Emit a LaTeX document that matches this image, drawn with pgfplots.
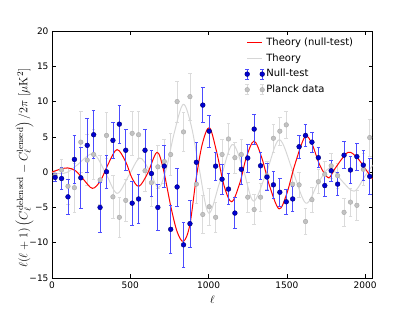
\documentclass[border=0pt]{standalone}
\usepackage[no-math]{fontspec}
\setmainfont{DejaVu Sans}
\usepackage{pgfplots}
\usepackage{pgfplotstable}
\pgfplotsset{compat=1.18}
\definecolor{thred}{rgb}{1,0,0}
\definecolor{nblue}{rgb}{0,0,0.82}
\definecolor{nedge}{rgb}{0,0,0.45}
\definecolor{nbar}{rgb}{0.3,0.3,1}
\definecolor{pgrayfill}{rgb}{0.76,0.76,0.76}
\definecolor{pgrayedge}{rgb}{0.66,0.66,0.66}
\definecolor{pgraybar}{rgb}{0.86,0.86,0.86}
\definecolor{thgray}{rgb}{0.84,0.84,0.84}

\pgfplotstableread{
l v e
20 -0.75 0.6
61 -0.9 1.6
102 -3.5 2.5
143 1.8 3.4
184 -0.8 4.3
225 3.8 3.8
266 5.3 3.4
307 -5.0 3.5
348 0.05 2.3
389 4.5 2.6
430 6.8 2.7
471 3.1 2.9
512 -4.4 3.1
553 -3.8 3.5
594 3.1 2.9
635 -0.2 3.3
676 -5.0 3.2
717 0.85 3.0
758 -8.1 3.4
799 -2.1 2.7
840 -10.3 3.2
881 -7.3 3.3
922 1.4 2.8
963 9.5 2.5
1004 5.8 2.3
1045 0.85 2.0
1086 -1.0 2.1
1127 -2.4 2.2
1168 -5.8 2.2
1209 0.4 2.2
1250 2.0 2.0
1291 6.1 2.1
1332 0.9 1.9
1373 -0.7 1.9
1414 -1.8 1.9
1455 -2.85 2.0
1496 -4.2 1.8
1537 -3.8 1.8
1578 3.6 1.6
1619 5.2 1.5
1660 4.25 1.45
1701 2.05 1.4
1742 -1.9 1.6
1783 0.2 1.5
1824 -1.7 1.6
1865 2.4 1.9
1906 0.3 1.9
1947 2.2 1.9
1988 1.0 2.1
2029 -0.6 2.5
}\nulltest

\pgfplotstableread{
l v e
20 -0.5 0.8
61 0.3 1.5
102 -2.0 2.6
143 -2.2 3.5
184 4.25 4.3
225 1.7 3.6
266 2.5 3.5
307 -1.1 3.5
348 5.2 3.2
389 -3.5 3.0
430 -6.4 2.8
471 -4.0 3.0
512 5.5 3.1
553 5.3 3.3
594 0.2 3.0
635 -1.5 3.3
676 0.75 3.1
717 1.5 3.1
758 2.5 3.0
799 10.0 2.9
840 5.7 2.8
881 10.7 3.3
922 -1.7 2.8
963 -6.0 2.7
1004 -4.9 2.6
1045 -6.4 2.1
1086 2.5 2.2
1127 4.7 2.2
1168 2.05 2.2
1209 2.5 2.2
1250 -3.55 2.1
1291 -5.3 2.1
1332 -3.55 2.0
1373 -0.5 2.0
1414 4.8 2.0
1455 5.8 2.0
1496 6.7 1.9
1537 -1.7 1.9
1578 -1.8 1.8
1619 -7.0 1.8
1660 -3.9 1.8
1701 -1.35 1.7
1742 -0.3 1.8
1783 0.9 1.8
1824 -0.5 1.8
1865 -5.7 2.0
1906 -4.25 2.0
1947 -4.7 2.1
1988 0.4 2.3
2029 4.9 2.6
}\planck

\begin{document}
\begin{tikzpicture}
\path[use as bounding box] (0,0) rectangle (415pt,312pt);
\begin{axis}[
  at={(52pt,34pt)}, anchor=south west,
  width=320.7pt, height=247pt, scale only axis,
  xmin=0, xmax=2048, ymin=-15, ymax=20,
  xtick={0,500,1000,1500,2000}, xticklabels={0,500,1000,1500,2000},
  ytick={-15,-10,-5,0,5,10,15,20}, yticklabels={−15,−10,−5,0,5,10,15,20},
  tick label style={font=\fontsize{9}{10}\selectfont},
  major tick length=4pt,
  tick style={black, line width=0.6pt},
  axis line style={black, line width=0.8pt},
  xlabel={$\ell$},
  xlabel style={at={(axis description cs:0.5,-0.089)}, anchor=center, font=\fontsize{11}{12}\selectfont},
  ylabel={$\ell(\ell+1)\left(C_\ell^{\mathrm{delensed}}-C_\ell^{\mathrm{lensed}}\right)/2\pi\ [\mu\mathrm{K}^2]$},
  ylabel style={at={(axis description cs:-0.086,0.445)}, anchor=center, font=\fontsize{12.8}{14}\selectfont},
  legend cell align=left,
  legend style={draw=none, fill=none, at={(axis description cs:0.60,0.978)}, anchor=north west,
    font=\fontsize{10}{12}\selectfont, row sep=3pt, inner sep=0pt,
    nodes={inner sep=1.5pt, text height=7.4pt, text depth=2.2pt}},
]
% Planck data
\addplot[forget plot, only marks, mark=*, mark size=2.3pt,
  mark options={fill=pgrayfill, draw=pgrayedge, line width=0.4pt},
  error bars/.cd, y dir=both, y explicit,
  error bar style={pgraybar, line width=0.8pt},
  error mark options={rotate=90, mark size=1.8pt, pgraybar, line width=0.8pt}]
  table[x=l, y=v, y error=e] {\planck};
% Theory
\addplot[forget plot, thgray, line width=1pt, smooth, tension=0.55] coordinates {
(0,0) (50,-0.2) (100,0.0) (160,1.0) (263,2.6) (340,0.0) (415,-3.0) (490,-0.5)
(560,2.0) (620,0.3) (680,-2.2) (730,0.5) (780,5.5) (838,9.6) (890,6.5) (940,0.5)
(1000,-5.8) (1070,-1.5) (1150,3.9) (1220,0.5) (1287,-4.1) (1370,0.0) (1452,4.6)
(1540,0.0) (1622,-4.4) (1700,-1.5) (1775,0.6) (1850,-1.2) (1930,-2.7) (2000,-0.5) (2048,1.0)
};
% Theory (null-test)
\addplot[forget plot, thred, line width=1pt, smooth, tension=0.55] coordinates {
(0,0) (50,0.4) (100,0.6) (150,0.2) (200,-1.0) (258,-2.3) (310,-1.2) (360,1.2)
(415,3.2) (470,1.5) (510,-0.8) (555,-2.0) (610,-0.2) (670,2.8) (710,0.5) (760,-5.0)
(800,-8.5) (840,-9.8) (880,-7.5) (920,-1.0) (960,4.0) (1005,6.3) (1050,3.0)
(1100,-2.0) (1148,-4.2) (1200,-1.5) (1240,2.0) (1290,4.4) (1340,2.0) (1390,-2.0)
(1450,-5.2) (1500,-3.0) (1550,1.0) (1615,5.0) (1660,4.0) (1710,1.0) (1765,-0.8)
(1810,0.6) (1890,2.8) (1950,2.0) (2000,0.5) (2048,-1.0)
};
% Null-test
\addplot[forget plot, only marks, mark=*, mark size=2.4pt,
  mark options={fill=nblue, draw=nedge, line width=0.4pt},
  error bars/.cd, y dir=both, y explicit,
  error bar style={nbar, line width=0.8pt},
  error mark options={rotate=90, mark size=1.8pt, nbar, line width=0.8pt}]
  table[x=l, y=v, y error=e] {\nulltest};

\addlegendimage{legend image code/.code={\draw[draw=thred, line width=1pt] (0pt,0pt) -- (15pt,0pt);}}
\addlegendentry{Theory (null-test)}
\addlegendimage{legend image code/.code={\draw[draw=thgray, line width=1pt] (0pt,0pt) -- (15pt,0pt);}}
\addlegendentry{Theory}
\addlegendimage{legend image code/.code={
  \foreach \xx in {0pt,15pt} {
    \draw[draw=nbar, line width=0.8pt] (\xx,-5pt) -- (\xx,5pt) (\xx-1.8pt,5pt) -- (\xx+1.8pt,5pt) (\xx-1.8pt,-5pt) -- (\xx+1.8pt,-5pt);
    \filldraw[fill=nblue, draw=nedge, line width=0.4pt] (\xx,0pt) circle (2.4pt);
  }}}
\addlegendentry{Null-test}
\addlegendimage{legend image code/.code={
  \foreach \xx in {0pt,15pt} {
    \draw[draw=pgraybar, line width=0.8pt] (\xx,-5pt) -- (\xx,5pt) (\xx-1.8pt,5pt) -- (\xx+1.8pt,5pt) (\xx-1.8pt,-5pt) -- (\xx+1.8pt,-5pt);
    \filldraw[fill=pgrayfill, draw=pgrayedge, line width=0.4pt] (\xx,0pt) circle (2.3pt);
  }}}
\addlegendentry{Planck data}
\end{axis}
\end{tikzpicture}
\end{document}
